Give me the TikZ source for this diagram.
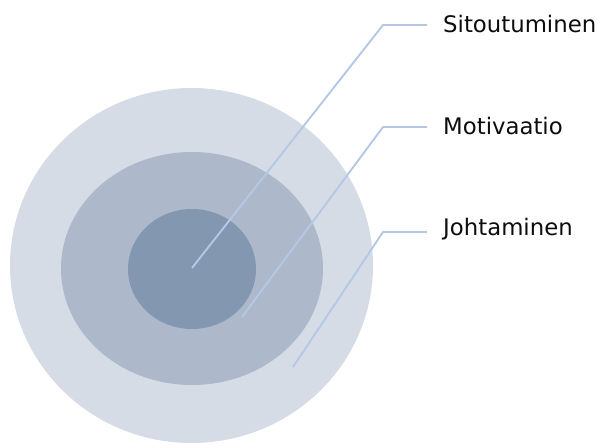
\documentclass[tikz,border=0pt]{standalone}
\usepackage{fontspec}
\setmainfont{DejaVu Sans}
\definecolor{ringA}{HTML}{D5DCE6}
\definecolor{ringB}{HTML}{ADB8CA}
\definecolor{ringC}{HTML}{8497B0}
\definecolor{leader}{HTML}{B4C8E6}
\definecolor{txt}{HTML}{0D0D0D}
\begin{document}
\begin{tikzpicture}[x=1pt,y=-1pt,
  lbl/.style={anchor=west,inner sep=0pt,text=txt,font=\fontsize{22.8}{26}\selectfont},
  lead/.style={draw=leader,line width=1.9pt}]
\useasboundingbox (0,0) rectangle (598,445);
\fill[ringA] (191.5,265.5) ellipse [x radius=181.5,y radius=177.5];
\fill[ringB] (192,268.5) ellipse [x radius=131,y radius=116.5];
\fill[ringC] (192,269) ellipse [x radius=64,y radius=60];
\coordinate (p1) at (192,268);
\coordinate (p2) at (242,317);
\coordinate (p3) at (293,367);
\coordinate (b1) at (383,25);
\coordinate (b2) at (383,127);
\coordinate (b3) at (383,232);
\coordinate (e1) at (427,25);
\coordinate (e2) at (427,127);
\coordinate (e3) at (427,232);
\node[lbl] (t1) at (443,24) {Sitoutuminen};
\node[lbl] (t2) at (443,126) {Motivaatio};
\node[lbl] (t3) at (443,229) {Johtaminen};
\draw[lead] (p1) -- (b1) -- (e1);
\draw[lead] (p2) -- (b2) -- (e2);
\draw[lead] (p3) -- (b3) -- (e3);
\end{tikzpicture}
\end{document}
